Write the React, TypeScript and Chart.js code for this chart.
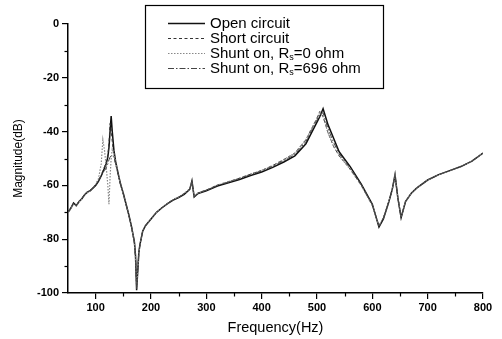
import React, { useEffect, useRef } from "react";
import { Chart, registerables } from "chart.js";

Chart.register(...registerables);

const FONT = "'Liberation Sans', Arial, Helvetica, sans-serif";

const freq = [
  50, 55, 60, 65, 70, 75, 80, 85, 90, 95, 100, 105, 110, 113, 116, 119, 122, 124, 126, 128,
  130, 133, 136, 140, 145, 150, 155, 160, 165, 170, 172, 174, 176, 178, 180, 185, 190, 200,
  210, 220, 230, 240, 250, 260, 270, 274, 278, 285, 300, 320, 340, 360, 380, 400, 420, 440,
  460, 480, 490, 500, 505, 511, 520, 530, 540, 560, 580, 600, 612, 620, 630, 636, 641, 646,
  652, 660, 670, 680, 700, 720, 740, 760, 780, 800,
];

const openCircuit = [
  -70, -68.5, -66.5, -67.5, -66, -65, -63.5, -62.5, -62, -61, -60, -58.5, -56.5, -55, -53.5, -52, -49.5, -46, -40, -34.2,
  -40, -47, -51, -55, -59.5, -63, -67, -71, -75.5, -81, -86, -99, -92, -85, -82, -77, -75, -72.5,
  -70, -68.3, -66.8, -65.5, -64.5, -63.3, -61.5, -58.3, -64.3, -63, -62, -60.2, -59, -57.8, -56.3, -55, -53.3, -51.3,
  -49, -44.5, -40.5, -36.5, -34.5, -31.5, -37.5, -42.5, -47.5, -53, -59.5, -67, -75.5, -72.5, -66, -61.5, -56, -64.5,
  -72, -66, -63, -61, -58, -56, -54.5, -53, -51, -48,
];

const shortCircuit = [
  -70, -68.3, -66.8, -67.3, -65.8, -64.8, -63.3, -62.3, -61.8, -60.8, -59.8, -58.2, -56.2, -54.6, -53, -51.2, -48.5, -44.5, -37, -39,
  -44, -48.5, -52, -55.5, -59.8, -63.3, -67.2, -71.2, -75.8, -81.5, -87, -97, -91, -85, -82, -77, -75, -72.5,
  -70, -68.2, -66.6, -65.3, -64.3, -63, -61.3, -58.8, -64, -62.8, -61.7, -59.9, -58.6, -57.3, -55.8, -54.4, -52.6, -50.4,
  -48, -43, -39, -35, -32.5, -34.5, -40.5, -45.5, -49, -54, -60, -67.5, -75, -72, -65.8, -61.5, -56.5, -64.3,
  -71.8, -66, -63, -61, -58, -56, -54.5, -53, -51, -48,
];

const shuntR0 = [
  -70.2, -68.6, -67, -67.6, -66.1, -65.1, -63.6, -62.6, -62.1, -61, -59.6, -57.5, -52, -43, -47, -53, -60, -67, -57, -50,
  -46.5, -48, -51.2, -55.2, -59.6, -63.1, -67.1, -71.1, -75.6, -81.2, -86.5, -98, -92, -85, -82, -77, -75, -72.5,
  -70, -68.2, -66.6, -65.3, -64.3, -63, -61.3, -58.6, -64.2, -62.8, -61.7, -59.9, -58.6, -57.3, -55.8, -54.4, -52.6, -50.4,
  -48, -43, -39, -35, -32.8, -34.5, -40.5, -45.5, -49, -54, -60, -67.5, -75, -72, -65.8, -61.5, -56.5, -64.3,
  -71.8, -66, -63, -61, -58, -56, -54.5, -53, -51, -48,
];

const shuntR696 = [
  -70.1, -68.5, -66.9, -67.5, -66, -65, -63.5, -62.5, -62, -61, -59.8, -58.2, -56.5, -55.3, -54.5, -53.5, -52, -50.5, -49.5, -49,
  -49, -49.5, -52, -55.3, -59.6, -63.1, -67.1, -71.1, -75.6, -81, -86, -98.5, -92, -85, -82, -77, -75, -72.5,
  -70, -68.3, -66.7, -65.4, -64.4, -63.1, -61.4, -58.5, -64.2, -62.9, -61.8, -60, -58.8, -57.5, -56, -54.7, -52.9, -50.8,
  -48.5, -43.7, -39.7, -35.7, -33.5, -33, -39, -44, -48.3, -53.5, -59.8, -67.2, -75.2, -72.2, -65.9, -61.5, -56.3, -64.4,
  -71.9, -66, -63, -61, -58, -56, -54.5, -53, -51, -48,
];

const xTicks = [100, 200, 300, 400, 500, 600, 700, 800];
const xMinorTicks = [150, 250, 350, 450, 550, 650, 750];
const yMinorTicks = [-10, -30, -50, -70, -90];

const legendRows = [
  { pre: "Open circuit", sub: "", post: "" },
  { pre: "Short circuit", sub: "", post: "" },
  { pre: "Shunt on, R", sub: "s", post: "=0 ohm" },
  { pre: "Shunt on, R", sub: "s", post: "=696 ohm" },
];

const styles = [
  { color: "#111", width: 1.5, dash: [] as number[] },
  { color: "#333", width: 1, dash: [3, 2.5] },
  { color: "#888", width: 1.2, dash: [1.5, 1.5] },
  { color: "#444", width: 1, dash: [6, 2, 1.5, 2] },
];

const series = [openCircuit, shortCircuit, shuntR0, shuntR696];

export default function App() {
  const ref = useRef<HTMLCanvasElement | null>(null);

  useEffect(() => {
    const canvas = ref.current;
    if (!canvas) return;

    const decor = {
      id: "decor",
      afterDraw(chart: any) {
        const ctx = chart.ctx;
        const xs = chart.scales.x;
        const ys = chart.scales.y;
        const ca = chart.chartArea;
        ctx.save();
        ctx.strokeStyle = "#000";
        ctx.lineWidth = 1.2;
        ctx.setLineDash([]);
        for (const v of xMinorTicks) {
          const px = Math.round(xs.getPixelForValue(v)) + 0.5;
          ctx.beginPath();
          ctx.moveTo(px, ca.bottom);
          ctx.lineTo(px, ca.bottom + 3.5);
          ctx.stroke();
        }
        for (const v of yMinorTicks) {
          const py = Math.round(ys.getPixelForValue(v)) + 0.5;
          ctx.beginPath();
          ctx.moveTo(ca.left, py);
          ctx.lineTo(ca.left - 3.5, py);
          ctx.stroke();
        }
        // legend
        const bx = 145, by = 5, bw = 238, bh = 83;
        ctx.fillStyle = "#fff";
        ctx.fillRect(bx, by, bw, bh);
        ctx.lineWidth = 1.2;
        ctx.strokeStyle = "#000";
        ctx.strokeRect(bx + 0.5, by + 0.5, bw, bh);
        const rowY = [23, 38, 53, 68];
        legendRows.forEach((r, i) => {
          const st = styles[i];
          ctx.strokeStyle = st.color;
          ctx.lineWidth = st.width;
          ctx.setLineDash(st.dash);
          ctx.beginPath();
          ctx.moveTo(168, rowY[i] + 0.5);
          ctx.lineTo(205, rowY[i] + 0.5);
          ctx.stroke();
          ctx.setLineDash([]);
          ctx.fillStyle = "#000";
          ctx.textBaseline = "middle";
          ctx.textAlign = "left";
          ctx.font = `15px ${FONT}`;
          let x = 210;
          ctx.fillText(r.pre, x, rowY[i] + 1);
          x += ctx.measureText(r.pre).width;
          if (r.sub) {
            ctx.font = `9px ${FONT}`;
            ctx.fillText(r.sub, x, rowY[i] + 5);
            x += ctx.measureText(r.sub).width;
            ctx.font = `15px ${FONT}`;
            ctx.fillText(r.post, x, rowY[i] + 1);
          }
        });
        ctx.restore();
      },
    };

    const chart = new Chart(canvas, {
      type: "line",
      data: {
        labels: freq,
        datasets: series.map((d, i) => ({
          label: legendRows[i].pre + legendRows[i].sub + legendRows[i].post,
          data: d.map((v, j) => ({ x: freq[j], y: v })),
          borderColor: styles[i].color,
          borderWidth: styles[i].width,
          borderDash: styles[i].dash,
          pointRadius: 0,
          tension: 0,
          fill: false,
          order: 3 - i,
        })),
      },
      options: {
        responsive: false,
        animation: false,
        devicePixelRatio: 1,
        layout: { padding: { top: 24, right: 19, left: 0, bottom: 0 } },
        plugins: { legend: { display: false }, tooltip: { enabled: false } },
        scales: {
          x: {
            type: "linear",
            min: 50,
            max: 800,
            afterBuildTicks: (s: any) => {
              s.ticks = xTicks.map((v) => ({ value: v }));
            },
            afterFit: (s: any) => {
              s.height = 46;
            },
            grid: { display: true, drawOnChartArea: false, drawTicks: true, tickLength: 6, color: "#000", lineWidth: 1.2 },
            border: { display: true, color: "#000", width: 1.5 },
            ticks: { color: "#000", font: { family: FONT, size: 11, weight: "bold" }, padding: 2, maxRotation: 0, autoSkip: false },
            title: { display: true, text: "Frequency(Hz)", color: "#000", font: { family: FONT, size: 14.5 }, padding: { top: 0, bottom: 2 } },
          },
          y: {
            type: "linear",
            min: -100,
            max: 0,
            ticks: { stepSize: 20, color: "#000", font: { family: FONT, size: 11, weight: "bold" }, padding: 3 },
            afterFit: (s: any) => {
              s.width = 68;
            },
            grid: { display: true, drawOnChartArea: false, drawTicks: true, tickLength: 6, color: "#000", lineWidth: 1.2 },
            border: { display: true, color: "#000", width: 1.5 },
            title: { display: true, text: "Magnitude(dB)", color: "#000", font: { family: FONT, size: 12 }, padding: { top: 11.8, bottom: 0 } },
          },
        },
      },
      plugins: [decor],
    } as any);

    return () => chart.destroy();
  }, []);

  return (
    <div style={{ position: "absolute", left: 0, top: 0, width: 502, height: 339, background: "#fff" }}>
      <canvas ref={ref} width={502} height={339} style={{ width: 502, height: 339, display: "block" }} />
    </div>
  );
}
